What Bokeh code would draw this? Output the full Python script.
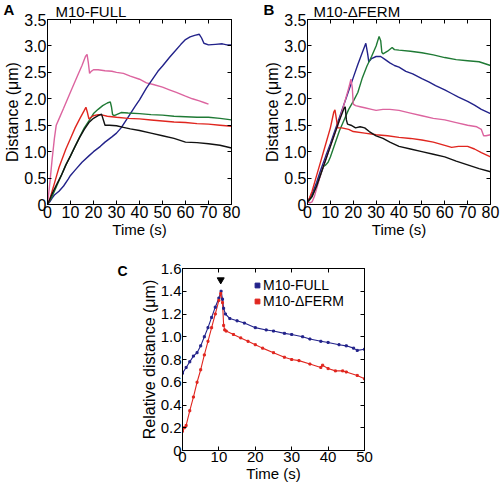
from bokeh.plotting import figure
from bokeh.models import (LinearAxis, Title, Legend, LegendItem, FixedTicker,
                          Range1d, CustomJSTickFormatter)
from bokeh.layouts import column, row
from bokeh.embed import file_html
from bokeh.resources import INLINE

# ---------------- data ----------------
A_XTICKS = [0, 10, 20, 30, 40, 50, 60, 70, 80]
A_YTICKS = [0, 0.5, 1.0, 1.5, 2.0, 2.5, 3.0, 3.5]
A_YLABELS = ["0", "0.5", "1.0", "1.5", "2.0", "2.5", "3.0", "3.5"]
C_XTICKS = [0, 10, 20, 30, 40, 50]
C_YTICKS = [0, 0.2, 0.4, 0.6, 0.8, 1.0, 1.2, 1.4, 1.6]
C_YLABELS = ["0", "0.2", "0.4", "0.6", "0.8", "1.0", "1.2", "1.4", "1.6"]

# Panel A : M10-FULL
A_PINK_T = [0, 1, 2, 3, 3.8, 5, 7, 10, 13, 15, 16.5, 17.2, 17.7, 18.3, 19, 20, 22, 25, 28, 30, 33, 36, 40, 43, 46, 50, 53, 56, 60, 63, 66, 68, 70]
A_PINK_D = [0, 0.4, 0.85, 1.25, 1.5, 1.62, 1.82, 2.13, 2.43, 2.63, 2.8, 2.84, 2.7, 2.48, 2.52, 2.55, 2.55, 2.53, 2.52, 2.5, 2.48, 2.43, 2.37, 2.3, 2.27, 2.22, 2.17, 2.12, 2.05, 2.0, 1.96, 1.93, 1.9]
A_BLUE_T = [0, 1, 2, 3, 5, 7, 9, 10, 12, 15, 18, 20, 23, 25, 28, 30, 32, 35, 38, 40, 43, 45, 48, 50, 53, 55, 58, 60, 62, 64, 66, 67, 68, 70, 73, 76, 78, 80]
A_BLUE_D = [0, 0.05, 0.12, 0.18, 0.25, 0.35, 0.48, 0.55, 0.65, 0.8, 0.92, 1.0, 1.1, 1.18, 1.28, 1.35, 1.45, 1.65, 1.85, 1.98, 2.2, 2.33, 2.52, 2.62, 2.78, 2.88, 3.03, 3.12, 3.17, 3.2, 3.22, 3.15, 3.05, 3.02, 3.03, 3.04, 3.02, 3.02]
A_GREEN_T = [0, 2, 4, 6, 8, 10, 12, 14, 16, 18, 20, 22, 24, 26, 27.3, 27.8, 28.3, 29, 30, 32, 35, 40, 45, 50, 55, 60, 65, 70, 75, 80]
A_GREEN_D = [0, 0.15, 0.35, 0.55, 0.75, 0.92, 1.1, 1.28, 1.45, 1.58, 1.72, 1.8, 1.87, 1.92, 1.94, 1.85, 1.7, 1.68, 1.7, 1.74, 1.73, 1.72, 1.7, 1.69, 1.67, 1.66, 1.65, 1.65, 1.63, 1.6]
A_RED_T = [0, 1, 2, 3, 4, 5, 6, 8, 10, 12, 14, 16, 16.7, 17.3, 18, 19, 20, 22, 24, 26, 30, 35, 40, 45, 50, 55, 60, 65, 70, 75, 80]
A_RED_D = [0, 0.1, 0.25, 0.4, 0.55, 0.7, 0.82, 1.05, 1.25, 1.45, 1.62, 1.78, 1.84, 1.75, 1.62, 1.65, 1.68, 1.7, 1.69, 1.67, 1.65, 1.63, 1.62, 1.6, 1.58, 1.56, 1.55, 1.53, 1.52, 1.5, 1.48]
A_BLACK_T = [0, 2, 4, 6, 8, 10, 12, 14, 16, 18, 20, 22, 23.5, 24.3, 25, 27, 30, 33, 36, 40, 45, 50, 55, 60, 65, 70, 75, 80]
A_BLACK_D = [0, 0.2, 0.38, 0.55, 0.75, 0.92, 1.1, 1.27, 1.42, 1.55, 1.63, 1.68, 1.71, 1.6, 1.5, 1.5, 1.49, 1.46, 1.43, 1.4, 1.35, 1.3, 1.25, 1.18, 1.17, 1.15, 1.12, 1.07]

# Panel B : M10-dFERM
B_BLUE_T = [0, 2, 4, 6, 8, 10, 12, 14, 16, 18, 20, 22, 24, 25.5, 26.3, 26.8, 28, 30, 32, 34, 36, 38, 40, 43, 46, 50, 53, 56, 60, 63, 66, 70, 73, 76, 80]
B_BLUE_D = [0.05, 0.2, 0.42, 0.68, 0.92, 1.15, 1.4, 1.65, 1.9, 2.15, 2.4, 2.65, 2.88, 3.05, 2.85, 2.7, 2.76, 2.8, 2.8, 2.74, 2.68, 2.63, 2.6, 2.52, 2.47, 2.38, 2.32, 2.25, 2.17, 2.1, 2.03, 1.95, 1.88, 1.8, 1.72]
B_GREEN_T = [0, 2, 4, 6, 7, 8, 9, 10, 12, 14, 16, 18, 20, 22, 24, 26, 28, 30, 31.3, 32, 32.5, 33, 35, 37, 38, 40, 45, 50, 55, 60, 65, 70, 75, 80]
B_GREEN_D = [0.03, 0.15, 0.35, 0.6, 0.72, 0.75, 0.8, 0.9, 1.15, 1.4, 1.6, 1.8, 1.95, 2.12, 2.4, 2.62, 2.8, 3.0, 3.18, 3.1, 2.88, 2.85, 2.9, 2.97, 2.93, 2.92, 2.9, 2.87, 2.83, 2.78, 2.74, 2.72, 2.7, 2.63]
B_PINK_T = [0, 1, 2, 3, 4, 6, 8, 10, 12, 14, 16, 18, 19, 19.6, 20, 21, 23, 25, 28, 30, 33, 36, 40, 45, 50, 55, 60, 65, 70, 74, 76, 77, 78, 80]
B_PINK_D = [0.05, 0.03, 0.05, 0.15, 0.3, 0.6, 0.85, 1.1, 1.35, 1.6, 1.9, 2.2, 2.37, 2.2, 1.9, 1.87, 1.85, 1.83, 1.8, 1.78, 1.8, 1.8, 1.78, 1.73, 1.68, 1.63, 1.6, 1.55, 1.5, 1.47, 1.42, 1.3, 1.3, 1.32]
B_RED_T = [0, 2, 4, 6, 8, 10, 11.5, 12, 12.7, 13.2, 15, 18, 20, 25, 30, 35, 40, 45, 50, 55, 60, 63, 66, 70, 73, 76, 80]
B_RED_D = [0.03, 0.25, 0.55, 0.85, 1.15, 1.45, 1.75, 1.79, 1.6, 1.45, 1.45, 1.42, 1.38, 1.35, 1.32, 1.3, 1.27, 1.25, 1.22, 1.18, 1.12, 1.08, 1.1, 1.1, 1.05, 0.98, 0.9]
B_BLACK_T = [0, 2, 4, 6, 8, 10, 12, 14, 16, 16.5, 17, 17.5, 19, 21, 23, 25, 27, 30, 33, 36, 40, 45, 50, 55, 60, 65, 70, 75, 80]
B_BLACK_D = [0.05, 0.15, 0.35, 0.6, 0.85, 1.1, 1.35, 1.6, 1.82, 1.85, 1.6, 1.52, 1.5, 1.45, 1.47, 1.45, 1.38, 1.3, 1.25, 1.18, 1.1, 1.05, 1.0, 0.95, 0.9, 0.82, 0.75, 0.68, 0.62]

# Panel C : relative distance
C_FULL_T = [0, 1, 2, 3, 4, 5, 6, 7, 8, 9, 10, 10.6, 11, 11.3, 11.8, 13, 15, 17, 20, 23, 25, 28, 30, 33, 35, 38, 40, 43, 45, 47, 48, 50]
C_FULL_D = [0.68, 0.73, 0.78, 0.83, 0.86, 0.92, 1.0, 1.08, 1.17, 1.26, 1.34, 1.4, 1.33, 1.25, 1.2, 1.16, 1.14, 1.12, 1.08, 1.06, 1.05, 1.03, 1.02, 1.0, 0.98, 0.96, 0.95, 0.93, 0.92, 0.9, 0.88, 0.89]
C_DFERM_T = [0, 0.5, 1, 2, 3, 4, 5, 6, 7, 8, 9, 10, 10.5, 11, 11.3, 11.6, 12, 14, 16, 18, 20, 22, 25, 28, 30, 32, 35, 38, 38.5, 40, 42, 44, 45, 48, 50]
C_DFERM_D = [0.17, 0.2, 0.22, 0.35, 0.47, 0.6, 0.71, 0.84, 0.96, 1.08, 1.2, 1.32, 1.38, 1.3, 1.1, 1.06, 1.05, 1.02, 0.99, 0.96, 0.93, 0.9, 0.86, 0.82, 0.8, 0.79, 0.76, 0.73, 0.75, 0.72, 0.7, 0.7, 0.69, 0.66, 0.63]
C_ARROW_T = [10.5]
C_ARROW_D = [1.5]

BLUE = "#22228a"
RED = "#e0261f"
GREEN = "#1f7a35"
PINK = "#dc649f"
BLACK = "#111111"
FONT = "Liberation Sans"

BLANK = CustomJSTickFormatter(code="return ''")


def style_axis(ax, fs, show=True, lab_fs="15px"):
    ax.major_tick_in = 4
    ax.major_tick_out = 0
    ax.minor_tick_line_color = None
    ax.axis_line_color = "black"
    ax.axis_line_width = 1
    ax.major_tick_line_color = "black"
    ax.major_label_text_font = FONT
    ax.major_label_text_color = "black"
    ax.axis_label_text_font = FONT
    ax.axis_label_text_font_style = "normal"
    ax.axis_label_text_font_size = lab_fs
    ax.axis_label_text_color = "black"
    ax.major_label_standoff = 1
    ax.axis_label_standoff = 0
    ax.major_label_text_font_size = fs
    if not show:
        ax.formatter = BLANK
        ax.major_label_text_font_size = "2px"
        ax.major_label_standoff = 0


def make_fig(fw, fh, xr, yr, xticks, yticks, ylabels, bl, br, bt, bb, fs, xlabel, ylabel):
    p = figure(frame_width=fw, frame_height=fh, title=None,
               x_range=Range1d(*xr), y_range=Range1d(*yr),
               output_backend="svg", toolbar_location=None,
               min_border_left=bl, min_border_right=br,
               min_border_top=bt, min_border_bottom=bb)
    p.grid.grid_line_color = None
    p.outline_line_color = "black"
    p.outline_line_width = 1
    xa = p.xaxis[0]
    ya = p.yaxis[0]
    xa.ticker = FixedTicker(ticks=xticks)
    ya.ticker = FixedTicker(ticks=yticks)
    xa.axis_label = xlabel
    ya.axis_label = ylabel
    style_axis(xa, fs)
    style_axis(ya, fs, lab_fs="16px")
    ya.major_label_overrides = {t: s for t, s in zip(yticks, ylabels)}
    top = LinearAxis(ticker=FixedTicker(ticks=xticks))
    right = LinearAxis(ticker=FixedTicker(ticks=yticks))
    style_axis(top, fs, show=False)
    style_axis(right, fs, show=False)
    p.add_layout(top, "above")
    p.add_layout(right, "right")
    return p


def add_title(p, txt, offset, standoff, size, bold=False):
    p.add_layout(Title(text=txt, align="left", offset=offset, standoff=standoff,
                       text_font=FONT, text_font_size=size,
                       text_font_style="bold" if bold else "normal",
                       text_color="black"), "above")


LW = 1.4

# ---- Panel A ----
pA = make_fig(184, 185, (0, 80), (0, 3.5), A_XTICKS, A_YTICKS, A_YLABELS,
              47, 29, 19, 36, "16px", "Time (s)", "Distance (μm)")
pA.line(A_PINK_T, A_PINK_D, line_color=PINK, line_width=LW)
pA.line(A_BLUE_T, A_BLUE_D, line_color=BLUE, line_width=LW)
pA.line(A_GREEN_T, A_GREEN_D, line_color=GREEN, line_width=LW)
pA.line(A_RED_T, A_RED_D, line_color=RED, line_width=LW)
pA.line(A_BLACK_T, A_BLACK_D, line_color=BLACK, line_width=LW)
add_title(pA, "M10-FULL", 8, 0, "15px")
add_title(pA, "A", -44, -34, "15px", bold=True)

# ---- Panel B ----
pB = make_fig(183, 185, (0, 80), (0, 3.5), A_XTICKS, A_YTICKS, A_YLABELS,
              47, 10, 19, 36, "16px", "Time (s)", "Distance (μm)")
pB.line(B_BLUE_T, B_BLUE_D, line_color=BLUE, line_width=LW)
pB.line(B_GREEN_T, B_GREEN_D, line_color=GREEN, line_width=LW)
pB.line(B_PINK_T, B_PINK_D, line_color=PINK, line_width=LW)
pB.line(B_RED_T, B_RED_D, line_color=RED, line_width=LW)
pB.line(B_BLACK_T, B_BLACK_D, line_color=BLACK, line_width=LW)
add_title(pB, "M10-ΔFERM", 6, 0, "15px")
add_title(pB, "B", -44, -34, "15px", bold=True)

# ---- Panel C ----
pC = make_fig(182, 182, (0, 50), (0, 1.6), C_XTICKS, C_YTICKS, C_YLABELS,
              182, 20, 28, 35, "15px", "Time (s)", "Relative distance (μm)")
pC.line(C_FULL_T, C_FULL_D, line_color=BLUE, line_width=1.1)
pC.line(C_DFERM_T, C_DFERM_D, line_color=RED, line_width=1.1)
sF = pC.scatter(C_FULL_T, C_FULL_D, marker="square", size=2, color=BLUE)
sD = pC.scatter(C_DFERM_T, C_DFERM_D, marker="square", size=2, color=RED)
pC.scatter(C_ARROW_T, C_ARROW_D, marker="inverted_triangle", size=7, color="black")
add_title(pC, "C", -65, -20, "14px", bold=True)

legend = Legend(items=[LegendItem(label="M10-FULL", renderers=[sF]),
                       LegendItem(label="M10-ΔFERM", renderers=[sD])],
                location=(69, 141), glyph_width=12, glyph_height=12,
                label_standoff=0, spacing=0, padding=0, margin=0,
                label_text_font=FONT, label_text_font_size="14px",
                label_text_color="black", label_height=12,
                border_line_color=None, background_fill_alpha=0)
pC.add_layout(legend)

layout = column(row(pA, pB), pC)
open("out.html", "w").write(file_html(layout, INLINE))
